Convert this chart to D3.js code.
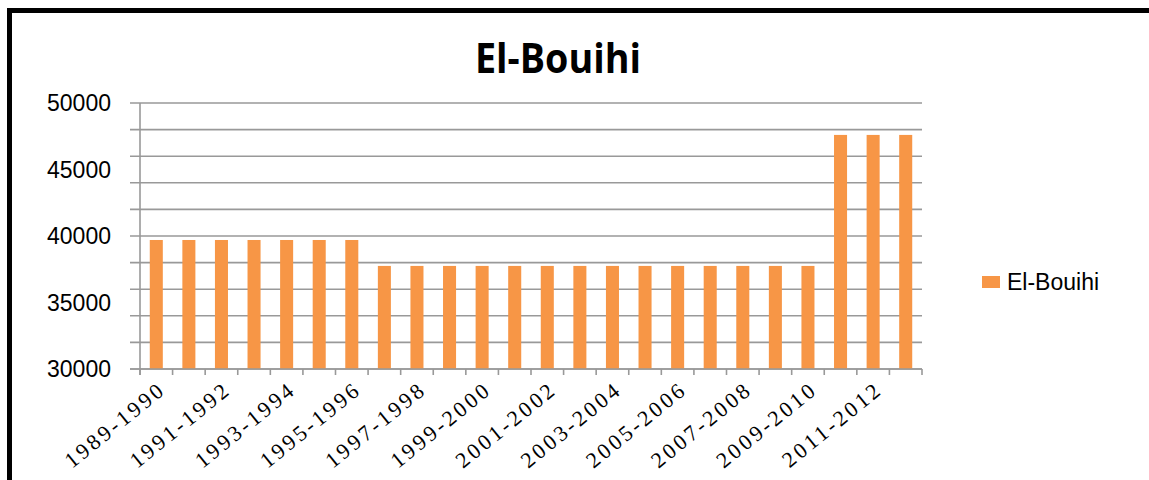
<html>
<head>
<script src="https://d3js.org/d3.v7.min.js"></script>
<style>
body { margin: 0; background: white; }
* { font-family: "Liberation Sans", Arial, sans-serif; }
</style>
</head>
<body>
<svg id="chart" width="1149" height="480"></svg>
<script>
// data
var categories = ["1989-1990","1990-1991","1991-1992","1992-1993","1993-1994","1994-1995",
                  "1995-1996","1996-1997","1997-1998","1998-1999","1999-2000","2000-2001",
                  "2001-2002","2002-2003","2003-2004","2004-2005","2005-2006","2006-2007",
                  "2007-2008","2008-2009","2009-2010","2010-2011","2011-2012","2012-2013"];
var values = [39700,39700,39700,39700,39700,39700,39700,
              37750,37750,37750,37750,37750,37750,37750,37750,37750,37750,37750,37750,37750,37750,
              47600,47600,47600];
var tickLabels = [30000,35000,40000,45000,50000];
var gridValues = [30000,32000,34000,36000,38000,40000,42000,44000,46000,48000,50000];
var seriesName = "El-Bouihi";

var svg = d3.select("#chart");
var orange = "#f79646";
var gridColor = "#999";

// frame (top and left only)
svg.append("line").attr("x1", 7).attr("x2", 1149).attr("y1", 10.5).attr("y2", 10.5)
    .attr("stroke", "black").attr("stroke-width", 5);
svg.append("line").attr("x1", 9.5).attr("x2", 9.5).attr("y1", 8).attr("y2", 480)
    .attr("stroke", "black").attr("stroke-width", 5);

var plotLeft = 140, plotRight = 922, plotTop = 103, plotBottom = 369;

var x = d3.scaleBand().domain(categories).range([plotLeft, plotRight]).paddingInner(0.6).paddingOuter(0.3);
var xb = d3.scaleBand().domain(categories).range([plotLeft, plotRight]);
var y = d3.scaleLinear().domain([30000, 50000]).range([plotBottom, plotTop]);

// title
svg.append("text")
    .attr("x", 558).attr("y", 73)
    .attr("text-anchor", "middle")
    .attr("textLength", 166).attr("lengthAdjust", "spacingAndGlyphs")
    .style("font-family", "'Open Sans', sans-serif")
    .style("font-weight", "bold").style("font-size", "42px")
    .text(seriesName);

// gridlines
svg.append("g").selectAll("line").data(gridValues).enter().append("line")
    .attr("x1", plotLeft - 10).attr("x2", plotRight)
    .attr("y1", function(d) { return y(d); }).attr("y2", function(d) { return y(d); })
    .attr("stroke", gridColor).attr("stroke-width", 1.6);

// y axis line
svg.append("line").attr("x1", plotLeft).attr("x2", plotLeft).attr("y1", plotTop).attr("y2", plotBottom + 6)
    .attr("stroke", gridColor).attr("stroke-width", 1.6);

// y labels
svg.append("g").selectAll("text").data(tickLabels).enter().append("text")
    .attr("x", 111).attr("y", function(d) { return y(d); })
    .attr("dy", "0.35em")
    .attr("text-anchor", "end")
    .style("font-size", "23px")
    .text(function(d) { return d; });

// bars
svg.append("g").selectAll("rect").data(values).enter().append("rect")
    .attr("x", function(d, i) { return x(categories[i]); })
    .attr("width", x.bandwidth())
    .attr("y", function(d) { return y(d); })
    .attr("height", function(d) { return y(30000) - y(d); })
    .attr("fill", orange);

// bottom axis
svg.append("line").attr("x1", plotLeft - 10).attr("x2", plotRight).attr("y1", plotBottom).attr("y2", plotBottom)
    .attr("stroke", gridColor).attr("stroke-width", 1.6);
var bounds = categories.map(function(c) { return xb(c); }).concat([plotRight]);
svg.append("g").selectAll("line").data(bounds).enter().append("line")
    .attr("x1", function(d) { return d; }).attr("x2", function(d) { return d; })
    .attr("y1", plotBottom).attr("y2", plotBottom + 6)
    .attr("stroke", gridColor).attr("stroke-width", 1.6);

// category labels, every other one
svg.append("g").selectAll("text")
    .data(categories.filter(function(c, i) { return i % 2 == 0; }))
    .enter().append("text")
    .attr("transform", function(d) {
        return "translate(" + (xb(d) + xb.bandwidth() / 2 + 6) + "," + (plotBottom + 17) + ") rotate(-39)";
    })
    .attr("text-anchor", "end")
    .attr("dy", "0.35em")
    .style("font-family", "'Liberation Serif', serif")
    .style("font-size", "22px")
    .style("letter-spacing", "3px")
    .text(function(d) { return d; });

// legend
svg.append("rect").attr("x", 982).attr("y", 276).attr("width", 18).attr("height", 12).attr("fill", orange);
svg.append("text").attr("x", 1007).attr("y", 282).attr("dy", "0.35em")
    .style("font-size", "23px").text(seriesName);
</script>
</body>
</html>
